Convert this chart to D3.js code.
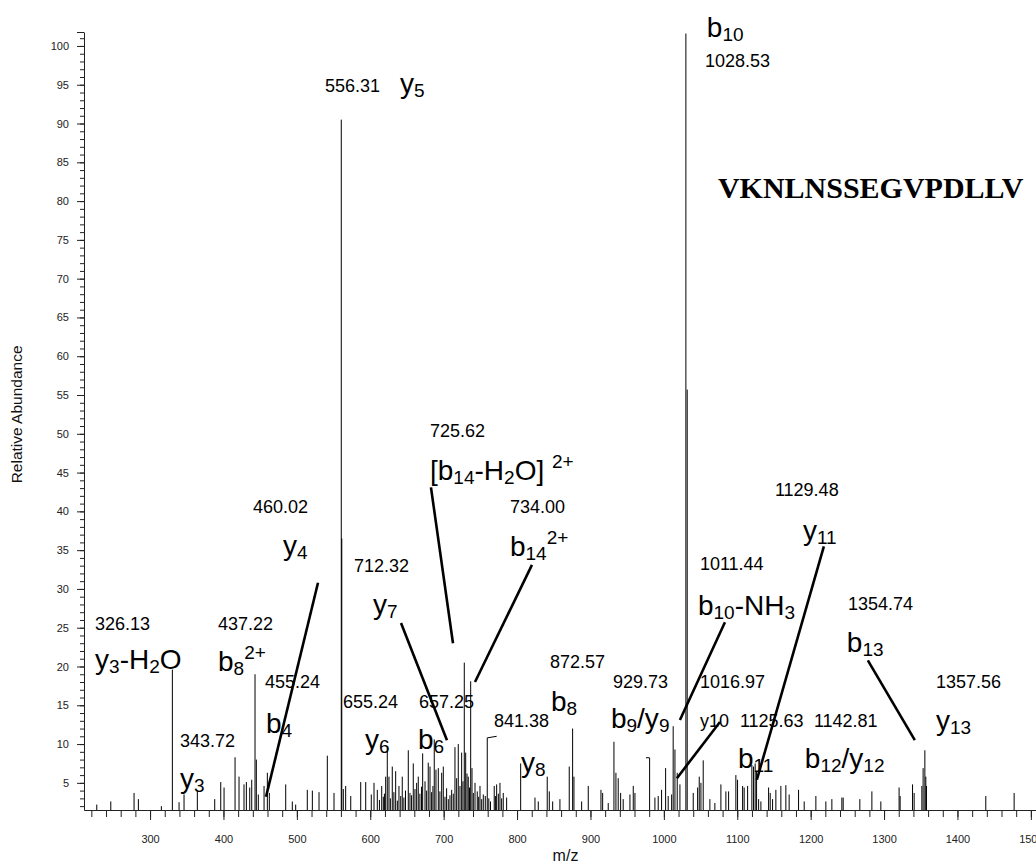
<!DOCTYPE html>
<html><head><meta charset="utf-8">
<script src="https://cdn.jsdelivr.net/npm/d3@7/dist/d3.min.js"></script>
<style>body{margin:0;background:#fff}svg{display:block}</style>
</head><body>
<svg id="chart" width="1036" height="864"></svg>
<script>
// ---------- data (m/z, relative abundance) ----------
const peakMz = [227.4,246.5,278.2,284.1,315.4,330.4,339.5,346.3,364.4,388.1,396.3,400.8,415.8,421.2,428.0,431.2,435.8,438.5,443.0,444.8,447.5,455.3,459.8,462.5,484.8,493.8,498.4,514.2,521.1,530.2,541.5,550.6,560.5,561.2,563.3,566.5,573.4,587.0,593.8,601.4,605.1,609.6,612.5,615.6,617.8,619.3,621.0,623.2,625.5,627.4,630.0,632.2,634.6,636.9,639.1,641.5,643.6,645.8,648.0,651.8,654.1,656.3,658.6,660.9,663.2,665.4,667.6,669.8,671.4,674.6,676.8,679.0,681.4,683.6,685.4,687.2,689.5,692.7,694.9,697.3,699.5,701.8,704.0,706.3,708.6,710.9,713.1,715.4,717.7,719.9,722.2,724.5,726.3,728.1,730.0,731.8,733.5,735.2,736.8,738.6,740.4,742.7,745.8,747.7,749.5,751.8,754.0,756.7,759.4,761.5,763.8,768.9,770.5,772.2,774.5,776.7,779.0,781.2,785.8,804.9,824.4,828.9,841.1,843.9,848.5,858.4,871.1,875.7,877.5,888.0,897.0,914.3,916.6,924.2,932.0,934.7,937.8,941.1,944.6,953.8,958.3,960.6,980.6,987.8,992.3,996.9,1002.4,1005.9,1010.6,1012.7,1015.1,1018.2,1021.9,1030.0,1031.8,1040.0,1046.0,1048.2,1050.5,1053.6,1062.7,1069.5,1077.7,1084.5,1088.2,1098.1,1100.4,1107.3,1109.4,1114.1,1119.9,1122.2,1124.4,1126.3,1129.1,1132.2,1142.7,1144.9,1148.1,1152.6,1159.4,1166.2,1170.7,1183.5,1191.2,1207.1,1220.7,1228.9,1242.5,1244.3,1267.0,1283.4,1295.6,1320.5,1321.9,1338.8,1341.0,1351.5,1353.2,1355.6,1356.9,1357.8,1438.6,1477.2];
const peakIntensity = [2.2,2.6,3.7,2.9,2.0,19.6,2.5,3.5,3.9,2.9,5.1,4.4,8.3,5.8,4.8,5.1,4.4,5.4,19.0,8.0,3.5,4.6,6.3,3.7,4.8,2.6,2.2,4.1,4.0,3.8,8.5,3.7,90.5,36.5,4.2,4.6,3.3,5.1,5.1,3.5,5.0,4.1,2.8,4.6,3.2,3.6,5.8,9.7,5.8,3.0,7.1,3.8,6.5,2.7,4.6,3.3,5.8,3.1,4.0,9.2,3.7,3.4,7.5,4.2,5.0,5.8,3.6,4.5,8.8,5.2,4.0,7.6,7.1,3.8,4.6,10.6,6.7,6.9,3.9,6.3,7.1,3.2,4.3,2.9,3.4,4.1,3.6,9.6,5.6,10.0,4.6,8.9,5.2,20.5,8.9,6.2,5.8,4.4,18.1,6.9,3.7,5.0,3.9,3.2,4.6,2.9,3.5,3.3,10.8,3.0,2.6,4.6,3.3,4.8,3.6,5.0,3.0,3.7,3.1,7.5,3.1,2.6,5.8,3.9,2.6,2.9,7.1,12.0,5.8,2.6,4.6,4.1,3.7,2.4,10.3,6.3,5.6,3.7,2.9,3.5,4.6,3.7,8.2,3.1,3.3,4.1,6.9,3.3,3.5,12.3,9.3,6.3,4.8,101.6,55.7,3.7,4.4,5.8,5.0,7.9,2.9,2.4,4.8,3.9,3.9,6.0,5.4,4.6,4.4,4.6,7.3,7.1,7.5,6.5,2.9,2.6,4.4,3.7,2.9,4.1,4.6,4.7,3.5,4.1,2.6,3.3,2.6,2.9,3.1,3.1,2.9,3.9,2.6,4.4,3.3,4.8,3.7,4.6,6.9,9.2,5.8,4.6,3.3,3.7];

const yMajorTicks = [5,10,15,20,25,30,35,40,45,50,55,60,65,70,75,80,85,90,95,100];
const xMajorTicks = [300,400,500,600,700,800,900,1000,1100,1200,1300,1400,1500];
const xTitle = "m/z";
const yTitle = "Relative Abundance";
const sequenceText = "VKNLNSSEGVPDLLV";

// annotation texts (markup: _{sub}, ^{sup})
const labelText = ["1028.53","b_{10}","556.31","y_{5}","725.62","[b_{14}-H_{2}O] ^{2+}","734.00","b_{14}^{2+}",
  "460.02","y_{4}","712.32","y_{7}","326.13","y_{3}-H_{2}O","437.22","b_{8}^{2+}","455.24","b_{4}",
  "655.24","657.25","y_{6}","b_{6}","343.72","y_{3}","872.57","b_{8}","841.38","y_{8}","929.73","b_{9}/y_{9}",
  "1011.44","b_{10}-NH_{3}","1016.97","y10","1125.63","1142.81","b_{11}","b_{12}/y_{12}","1129.48","y_{11}",
  "1354.74","b_{13}","1357.56","y_{13}"];
const labelKind = ["n","i","n","i","n","i","n","i","n","i","n","i","n","i","n","i","n","i",
  "n","n","i","i","n","i","n","i","n","i","n","i","n","i","n","n","n","n","i","i","n","i","n","i","n","i"];
// anchor of each label (left, baseline) in data units
const labelMz = [1055.9,1058.6,538.4,640.5,681.4,681.4,790.3,790.3,440.3,481.1,577.9,603.7,225.1,225.1,392.6,392.6,456.6,458.0,
  562.9,666.4,592.8,665.0,340.9,340.9,844.8,846.2,768.5,805.3,930.6,927.9,1049.1,1046.4,1049.1,1049.1,1103.6,1204.4,1100.9,1192.1,1151.3,1189.4,
  1250.7,1249.3,1370.6,1370.6];
const labelAbund = [97.3,101.2,94.1,93.9,49.6,44.05,39.8,34.25,39.8,34.4,32.2,26.8,24.7,19.7,24.7,19.4,17.2,11.4,
  14.65,14.65,9.3,9.3,9.6,4.4,19.8,14.2,12.2,6.4,17.2,12.1,32.4,26.7,17.2,12.2,12.2,12.2,6.9,6.9,42.0,36.3,
  27.3,21.9,17.2,11.8];

// leader lines [mz1, ab1, mz2, ab2]
const leaderStart = [[682.7,43.1],[820.3,33.1],[528.8,30.8],[641.9,25.6],[1083.2,25.7],[1076.4,12.85],[1218.0,35.5],[1277.9,20.8]];
const leaderEnd   = [[712.7,23.0],[742.7,18.0],[458.0,3.2],[704.5,10.5],[1021.9,13.1],[1017.8,5.6],[1126.7,5.4],[1341.9,10.5]];
// small flags on peak tops
const flagStart = [[759.4,10.8],[980.6,8.24]];
const flagEnd   = [[772.2,11.0],[975.6,8.24]];

// ---------- drawing ----------
const svg = d3.select("#chart");
const FONT = "Arial, 'Liberation Sans', Helvetica, sans-serif";
const x = d3.scaleLinear().domain([210, 1507]).range([84, 1036]);
const y = d3.scaleLinear().domain([1.5, 101.8]).range([810, 32]);

// y axis
const yMinor = d3.range(2, 102, 1);
svg.append("g").attr("transform","translate(84,0)")
  .call(d3.axisLeft(y).tickValues(yMinor).tickSize(4).tickSizeOuter(0).tickFormat(""))
  .call(g=>g.selectAll("line,path").attr("stroke","#222"));
svg.append("g").attr("transform","translate(84,0)")
  .call(d3.axisLeft(y).tickValues(yMajorTicks.concat([y.domain()[1]])).tickSize(7).tickSizeOuter(0).tickPadding(8)
        .tickFormat(d => yMajorTicks.includes(d) ? d : ""))
  .call(g=>g.select(".domain").remove())
  .call(g=>g.selectAll("line").attr("stroke","#222"))
  .call(g=>g.selectAll("text").attr("font-family",FONT).attr("font-size",11).attr("fill","#222"));

// x axis
const xMinor = d3.range(220, 1501, 20);
svg.append("g").attr("transform","translate(0,810)")
  .call(d3.axisBottom(x).tickValues(xMinor).tickSize(7).tickSizeOuter(0).tickFormat(""))
  .call(g=>g.selectAll("line,path").attr("stroke","#222"));
svg.append("g").attr("transform","translate(0,810)")
  .call(d3.axisBottom(x).tickValues(xMajorTicks).tickSize(10).tickSizeOuter(0).tickPadding(15).tickFormat(d3.format("d")))
  .call(g=>g.select(".domain").remove())
  .call(g=>g.selectAll("line").attr("stroke","#222"))
  .call(g=>g.selectAll("text").attr("font-family",FONT).attr("font-size",11).attr("fill","#222"));

// titles
svg.append("text").attr("x", x(866)).attr("y", 861).attr("text-anchor","middle")
  .attr("font-family",FONT).attr("font-size",16).attr("fill","#111").text(xTitle);
svg.append("text").attr("transform",`translate(22,${y(52.5)}) rotate(-90)`).attr("text-anchor","middle")
  .attr("font-family",FONT).attr("font-size",15.5).attr("fill","#111").text(yTitle);

// peaks
const peaks = d3.zip(peakMz, peakIntensity);
svg.append("g").selectAll("line").data(peaks).join("line")
  .attr("x1", d=>x(d[0])).attr("x2", d=>x(d[0]))
  .attr("y1", y(y.domain()[0])).attr("y2", d=>y(d[1]))
  .attr("stroke","#000").attr("stroke-width",1);

// flags
svg.append("g").selectAll("line").data(d3.zip(flagStart, flagEnd)).join("line")
  .attr("x1", d=>x(d[0][0])).attr("y1", d=>y(d[0][1]))
  .attr("x2", d=>x(d[1][0])).attr("y2", d=>y(d[1][1]))
  .attr("stroke","#000").attr("stroke-width",1);

// leader lines
svg.append("g").selectAll("line").data(d3.zip(leaderStart, leaderEnd)).join("line")
  .attr("x1", d=>x(d[0][0])).attr("y1", d=>y(d[0][1]))
  .attr("x2", d=>x(d[1][0])).attr("y2", d=>y(d[1][1]))
  .attr("stroke","#000").attr("stroke-width",2.6);

// labels
const ION = 28, SUB = 19, NUM = 18;
function addLabel(str, kind, px, py){
  const t = svg.append("text").attr("x",px).attr("y",py)
    .attr("font-family",FONT).attr("fill","#000").style("white-space","pre");
  if(kind === "n"){ t.attr("font-size",NUM).text(str); return; }
  t.attr("font-size",ION);
  const tokens = str.match(/(_\{[^}]*\}|\^\{[^}]*\}|[^_^]+)/g);
  let cur = 0;
  tokens.forEach(tok=>{
    let txt = tok, size = ION, off = 0;
    if(tok.startsWith("_{")){ txt = tok.slice(2,-1); size = SUB; off = 4; }
    else if(tok.startsWith("^{")){ txt = tok.slice(2,-1); size = SUB; off = -12; }
    t.append("tspan").attr("font-size",size).attr("dy",off-cur).text(txt);
    cur = off;
  });
}
labelText.forEach((s,i)=>addLabel(s, labelKind[i], x(labelMz[i]), y(labelAbund[i])));

// peptide sequence
svg.append("text").attr("x", x(1073.6)).attr("y", y(80.4))
  .attr("font-family","'Times New Roman', 'Liberation Serif', serif").attr("font-weight","bold")
  .attr("font-size",30).attr("fill","#000").text(sequenceText);
</script>
</body></html>
